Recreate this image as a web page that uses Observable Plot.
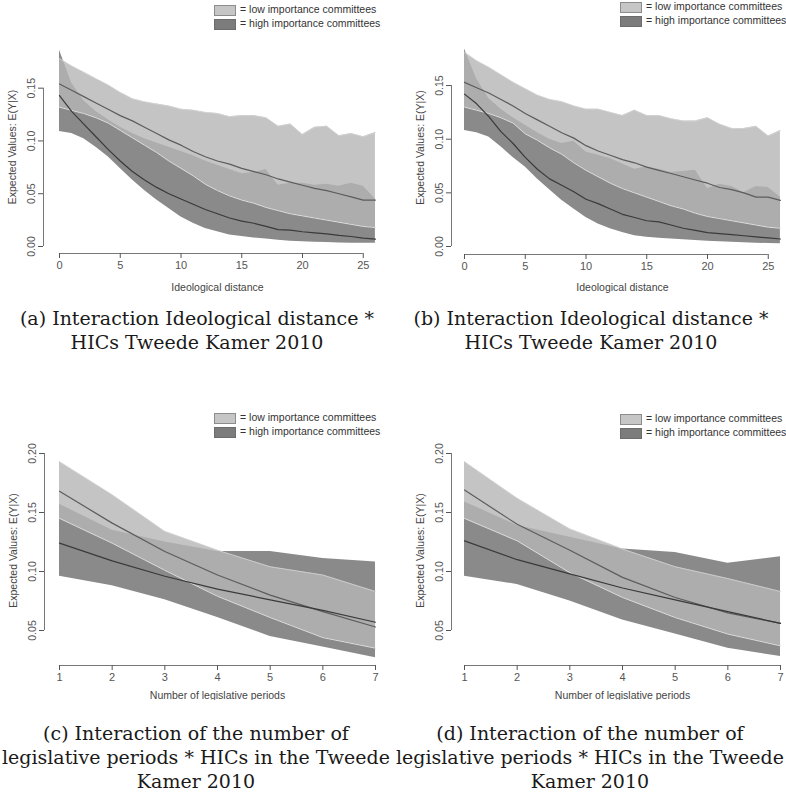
<!DOCTYPE html>
<html><head><meta charset="utf-8">
<script src="https://cdn.jsdelivr.net/npm/d3@7"></script>
<script src="https://cdn.jsdelivr.net/npm/@observablehq/plot@0.6"></script>
<style>
html,body{margin:0;padding:0;background:#fff;}
body{width:786px;height:799px;overflow:hidden;position:relative;font-family:"Liberation Sans",Arial,sans-serif;}
.panel{position:absolute;}
.leg{position:absolute;font-size:10.5px;color:#333;line-height:11px;white-space:nowrap;}
.leg .sw{position:absolute;left:0;width:20px;height:9px;}
.leg .tx{position:absolute;left:26px;}
.cap{position:absolute;font-family:"DejaVu Serif",serif;font-size:19px;line-height:24px;color:#1a1a1a;text-align:center;white-space:nowrap;}
.cap div{display:flex;justify-content:center;}
</style></head><body>
<script>
// ---------- data ----------
const distX = [0,1,2,3,4,5,6,7,8,9,10,11,12,13,14,15,16,17,18,19,20,21,22,23,24,25,26];
const periodX = [1,2,3,4,5,6,7];

const aLowUpper = [0.178,0.171,0.165,0.159,0.153,0.146,0.140,0.137,0.135,0.133,0.130,0.129,0.127,0.126,0.123,0.124,0.124,0.122,0.114,0.116,0.106,0.113,0.114,0.105,0.107,0.104,0.108];
const aLowMean  = [0.154,0.148,0.142,0.136,0.130,0.124,0.119,0.113,0.107,0.101,0.096,0.090,0.085,0.081,0.078,0.074,0.071,0.068,0.064,0.061,0.058,0.055,0.053,0.050,0.047,0.044,0.044];
const aLowLower = [0.132,0.129,0.126,0.122,0.117,0.110,0.103,0.096,0.089,0.081,0.074,0.067,0.059,0.053,0.048,0.044,0.041,0.037,0.034,0.031,0.029,0.027,0.025,0.023,0.021,0.019,0.018];
const aHighUpper = [0.186,0.155,0.138,0.128,0.120,0.113,0.107,0.102,0.098,0.094,0.090,0.086,0.081,0.077,0.073,0.069,0.070,0.073,0.058,0.060,0.060,0.058,0.059,0.057,0.060,0.057,0.045];
const aHighMean  = [0.143,0.128,0.116,0.104,0.092,0.081,0.071,0.063,0.056,0.050,0.045,0.040,0.035,0.031,0.027,0.024,0.022,0.019,0.016,0.0155,0.014,0.013,0.012,0.0105,0.0095,0.008,0.007];
const aHighLower = [0.109,0.107,0.102,0.094,0.085,0.074,0.063,0.053,0.044,0.036,0.028,0.022,0.017,0.014,0.011,0.0095,0.008,0.007,0.006,0.005,0.0044,0.004,0.0038,0.0034,0.003,0.003,0.003];

const bLowUpper = [0.181,0.173,0.167,0.160,0.153,0.147,0.141,0.137,0.135,0.131,0.128,0.128,0.125,0.122,0.127,0.122,0.122,0.119,0.117,0.117,0.120,0.114,0.110,0.110,0.112,0.103,0.108];
const bLowMean  = [0.153,0.148,0.143,0.137,0.131,0.124,0.118,0.112,0.106,0.101,0.094,0.089,0.085,0.081,0.078,0.074,0.071,0.068,0.065,0.062,0.059,0.055,0.053,0.050,0.046,0.046,0.043];
const bLowLower = [0.130,0.127,0.124,0.120,0.115,0.105,0.099,0.092,0.086,0.078,0.071,0.065,0.059,0.054,0.050,0.046,0.042,0.038,0.035,0.031,0.028,0.026,0.024,0.022,0.020,0.018,0.017];
const bHighUpper = [0.184,0.156,0.138,0.128,0.120,0.113,0.106,0.100,0.096,0.098,0.088,0.085,0.082,0.077,0.072,0.074,0.072,0.069,0.070,0.071,0.054,0.058,0.056,0.050,0.056,0.055,0.046];
const bHighMean  = [0.142,0.133,0.121,0.107,0.096,0.083,0.072,0.063,0.057,0.051,0.044,0.040,0.035,0.030,0.027,0.024,0.023,0.020,0.017,0.015,0.013,0.012,0.011,0.010,0.009,0.008,0.007];
const bHighLower = [0.108,0.106,0.102,0.093,0.083,0.074,0.063,0.053,0.043,0.035,0.027,0.021,0.0165,0.013,0.010,0.0087,0.0078,0.007,0.0062,0.0056,0.005,0.0045,0.004,0.0035,0.0031,0.0028,0.0025];

const cLowUpper = [0.193,0.165,0.134,0.118,0.104,0.097,0.083];
const cLowMean  = [0.168,0.141,0.117,0.097,0.080,0.066,0.053];
const cLowLower = [0.145,0.124,0.101,0.079,0.061,0.044,0.035];
const cHighUpper = [0.157,0.135,0.125,0.117,0.117,0.111,0.108];
const cHighMean  = [0.124,0.109,0.096,0.085,0.076,0.067,0.057];
const cHighLower = [0.096,0.088,0.076,0.061,0.045,0.036,0.027];

const dLowUpper = [0.193,0.162,0.136,0.119,0.104,0.094,0.083];
const dLowMean  = [0.169,0.140,0.118,0.095,0.078,0.065,0.056];
const dLowLower = [0.145,0.126,0.099,0.078,0.061,0.047,0.037];
const dHighUpper = [0.159,0.139,0.129,0.119,0.116,0.107,0.1125];
const dHighMean  = [0.126,0.110,0.098,0.086,0.076,0.066,0.056];
const dHighLower = [0.096,0.089,0.075,0.059,0.047,0.035,0.028];

const distTicks = [0,5,10,15,20,25];
const periodTicks = [1,2,3,4,5,6,7];
const distYTicks = [0,0.05,0.10,0.15];
const periodYTicks = [0.05,0.10,0.15,0.20];

const yTitle = "Expected Values: E(Y|X)";
const distTitle = "Ideological distance";
const periodTitle = "Number of legislative periods";
const legendLabels = ["= low importance committees", "= high importance committees"];
const captions = [
  ["(a) Interaction Ideological distance *", "HICs Tweede Kamer 2010"],
  ["(b) Interaction Ideological distance *", "HICs Tweede Kamer 2010"],
  ["(c) Interaction of the number of", "legislative periods * HICs in the Tweede", "Kamer 2010"],
  ["(d) Interaction of the number of", "legislative periods * HICs in the Tweede", "Kamer 2010"]
];

// ---------- layout / style ----------
const LIGHT = "#b5b5b5", DARK = "#8a8a8a";
const panels = [
  {X: distX, lu: aLowUpper, lm: aLowMean, ll: aLowLower, hu: aHighUpper, hm: aHighMean, hl: aHighLower,
   xTicks: distTicks, yTicks: distYTicks, xTitle: distTitle,
   L: {left:0, top:0, w:393, h:300, x0:0, x0px:59, xPer:12.15, y0:0, y0px:246, yPer:1055.5, axX:43, axY:253, rightPx:386, topPx:40, xtDy:34},
   leg: {left:214, top:5}, cap: {center:197, top:306}},
  {X: distX, lu: bLowUpper, lm: bLowMean, ll: bLowLower, hu: bHighUpper, hm: bHighMean, hl: bHighLower,
   xTicks: distTicks, yTicks: distYTicks, xTitle: distTitle,
   L: {left:393, top:0, w:393, h:300, x0:0, x0px:71, xPer:12.15, y0:0, y0px:246, yPer:1073, axX:58, axY:254, rightPx:392, topPx:40, xtDy:33},
   leg: {left:620, top:2}, cap: {center:591, top:306}},
  {X: periodX, lu: cLowUpper, lm: cLowMean, ll: cLowLower, hu: cHighUpper, hm: cHighMean, hl: cHighLower,
   xTicks: periodTicks, yTicks: periodYTicks, xTitle: periodTitle,
   L: {left:0, top:400, w:393, h:300, x0:1, x0px:59, xPer:52.67, y0:0.05, y0px:230, yPer:1180, axX:44, axY:265, rightPx:386, topPx:35, xtDy:30},
   leg: {left:214, top:413}, cap: {center:196, top:721}},
  {X: periodX, lu: dLowUpper, lm: dLowMean, ll: dLowLower, hu: dHighUpper, hm: dHighMean, hl: dHighLower,
   xTicks: periodTicks, yTicks: periodYTicks, xTitle: periodTitle,
   L: {left:393, top:400, w:393, h:300, x0:1, x0px:71, xPer:52.67, y0:0.05, y0px:230, yPer:1180, axX:58, axY:265, rightPx:392, topPx:35, xtDy:30},
   leg: {left:620, top:414}, cap: {center:590, top:721}}
];

panels.forEach((p, k) => {
  const L = p.L;
  const low = p.X.map((x, i) => ({x, lo: p.ll[i], hi: p.lu[i], m: p.lm[i]}));
  const high = p.X.map((x, i) => ({x, lo: p.hl[i], hi: p.hu[i], m: p.hm[i]}));
  const xlo = L.x0 + (L.axX - L.x0px) / L.xPer;
  const xhi = L.x0 + (L.rightPx - L.x0px) / L.xPer;
  const ylo = L.y0 - (L.axY - L.y0px) / L.yPer;
  const yhi = L.y0 + (L.y0px - L.topPx) / L.yPer;
  const xMid = (d3.min(p.X) + d3.max(p.X)) / 2;
  const chart = Plot.plot({
    width: L.w, height: L.h,
    marginLeft: L.axX, marginRight: L.w - L.rightPx, marginTop: L.topPx, marginBottom: L.h - L.axY,
    x: {domain: [xlo, xhi], range: [L.axX, L.rightPx]},
    y: {domain: [ylo, yhi], range: [L.axY, L.topPx]},
    style: {fontFamily: '"Liberation Sans", Arial, sans-serif', fontSize: "10.5px", color: "#444", background: "transparent"},
    marks: [
      Plot.areaY(high, {x: "x", y1: "lo", y2: "hi", fill: DARK}),
      Plot.areaY(low, {x: "x", y1: "lo", y2: "hi", fill: LIGHT, fillOpacity: 0.8}),
      Plot.line(low, {x: "x", y: "lo", stroke: "#dedede", strokeWidth: 1}),
      Plot.line(low, {x: "x", y: "hi", stroke: "#d4d4d4", strokeWidth: 0.8}),
      Plot.line(low, {x: "x", y: "m", stroke: "#5c5c5c", strokeWidth: 1.2}),
      Plot.line(high, {x: "x", y: "m", stroke: "#3a3a3a", strokeWidth: 1.2}),
      Plot.ruleX([xlo], {y1: p.yTicks[0], y2: p.yTicks[p.yTicks.length - 1], stroke: "#777"}),
      Plot.ruleY([ylo], {x1: p.xTicks[0], x2: p.xTicks[p.xTicks.length - 1], stroke: "#777"}),
      Plot.axisY({ticks: p.yTicks, tickSize: 5, tickPadding: 4, tickRotate: -90, tickFormat: d3.format(".2f"), label: null, color: "#555", fontSize: 10.5}),
      Plot.axisX({ticks: p.xTicks, tickSize: 5, tickPadding: 3, tickFormat: d => String(d), label: null, color: "#555", fontSize: 11}),
      Plot.text([yTitle], {frameAnchor: "left", rotate: -90, dx: -31, textAnchor: "middle", lineAnchor: "middle", text: d => d, fill: "#444", fontSize: 10.5}),
      Plot.text([p.xTitle], {x: xMid, frameAnchor: "bottom", dy: L.xtDy, lineAnchor: "middle", text: d => d, fill: "#444", fontSize: 10.5})
    ]
  });
  chart.classList.add("panel");
  chart.style.left = L.left + "px";
  chart.style.top = L.top + "px";
  document.body.appendChild(chart);

  // legend
  const leg = document.createElement("div");
  leg.className = "leg";
  leg.style.left = p.leg.left + "px";
  leg.style.top = p.leg.top + "px";
  const swStyles = [
    "background:#c6c6c6;border:1px solid #8c8c8c;",
    "background:#7c7c7c;border:1px solid #6c6c6c;"
  ];
  legendLabels.forEach((lab, i) => {
    const sw = document.createElement("div");
    sw.className = "sw";
    sw.style.cssText += swStyles[i] + "top:" + (i * 14) + "px;";
    const tx = document.createElement("div");
    tx.className = "tx";
    tx.style.top = (i * 14 - 1) + "px";
    tx.textContent = lab;
    leg.appendChild(sw);
    leg.appendChild(tx);
  });
  document.body.appendChild(leg);

  // caption centered on its column
  const cap = document.createElement("div");
  cap.className = "cap";
  const W = 600;
  cap.style.left = (p.cap.center - W / 2) + "px";
  cap.style.width = W + "px";
  cap.style.top = p.cap.top + "px";
  captions[k].forEach(line => {
    const d = document.createElement("div");
    const s = document.createElement("span");
    s.textContent = line;
    d.appendChild(s);
    cap.appendChild(d);
  });
  document.body.appendChild(cap);
});
</script>
</body></html>
